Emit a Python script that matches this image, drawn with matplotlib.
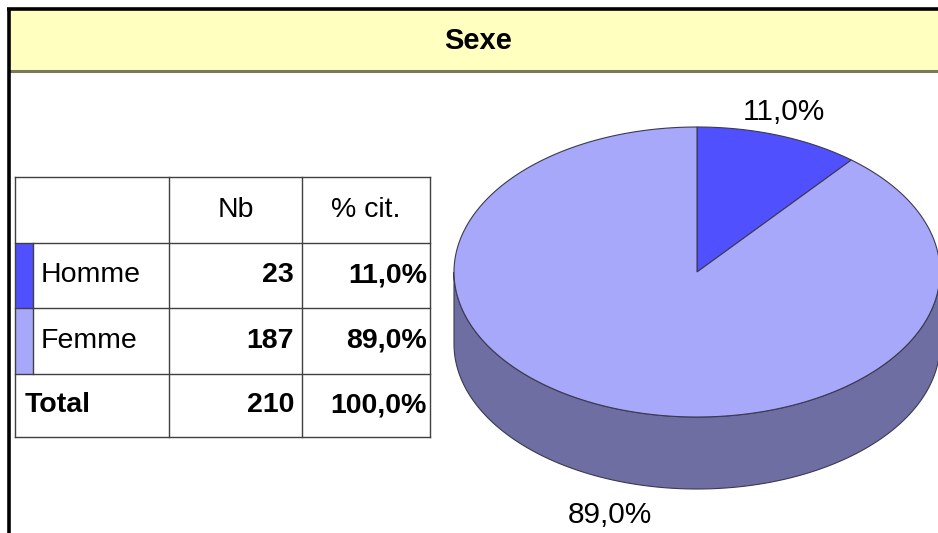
import numpy as np
import matplotlib
matplotlib.use("Agg")
import matplotlib.pyplot as plt
from matplotlib.patches import Polygon, Rectangle

# ---- data ----
title = "Sexe"
categories = ["Homme", "Femme"]
counts = [23, 187]
percents = [11.0, 89.0]
total_label = "Total"
total_count = 210
total_percent = 100.0
col_headers = ["Nb", "% cit."]

top_colors = ["#5050FF", "#A8A8FA"]
side_color = "#6E6EA2"
edge_color = "#3A3A50"

def fmt_pct(v):
    return f"{v:.1f}%".replace(".", ",")

W, H = 938, 533
fig = plt.figure(figsize=(W / 100, H / 100), dpi=100)
ax = fig.add_axes([0, 0, 1, 1])
ax.set_xlim(0, W)
ax.set_ylim(H, 0)
ax.axis("off")

FONT = ["Liberation Sans", "DejaVu Sans"]

# ---- frame and title band ----
ax.add_patch(Rectangle((9, 10), W - 9, 61, facecolor="#FFFFC0", edgecolor="none"))
ax.plot([9, W], [71, 71], color="#7A7A5A", lw=2.2, solid_capstyle="butt")
ax.plot([8.5, 8.5], [8, H], color="black", lw=2.6, solid_capstyle="butt")
ax.plot([7, W], [9, 9], color="black", lw=2.6, solid_capstyle="butt")
ax.text(478, 41, title, ha="center", va="center", fontsize=21, fontweight="bold", family=FONT)

# ---- table ----
xs = [15, 33, 169, 302, 430]
ys = [177, 243, 308, 374, 437]
lc = "#404040"
for y in ys:
    ax.plot([xs[0], xs[-1]], [y, y], color=lc, lw=1)
ax.plot([xs[0], xs[0]], [ys[0], ys[-1]], color=lc, lw=1)
for x in xs[2:]:
    ax.plot([x, x], [ys[0], ys[-1]], color=lc, lw=1)
for i, c in enumerate(top_colors):
    ax.add_patch(Rectangle((xs[0], ys[i + 1]), xs[1] - xs[0], ys[i + 2] - ys[i + 1],
                           facecolor=c, edgecolor="none", zorder=1))
    ax.plot([xs[1], xs[1]], [ys[i + 1], ys[i + 2]], color=lc, lw=1)

fs = 20.5
hy = (ys[0] + ys[1]) / 2
ax.text((xs[2] + xs[3]) / 2, hy, col_headers[0], ha="center", va="center", fontsize=fs, family=FONT)
ax.text((xs[3] + xs[4]) / 2, hy, col_headers[1], ha="center", va="center", fontsize=fs, family=FONT)
for i, cat in enumerate(categories):
    cy = (ys[i + 1] + ys[i + 2]) / 2
    ax.text(xs[1] + 8, cy, cat, ha="left", va="center", fontsize=fs, family=FONT)
    ax.text(xs[3] - 8, cy, str(counts[i]), ha="right", va="center", fontsize=fs,
            fontweight="bold", family=FONT)
    ax.text(xs[4] - 3, cy, fmt_pct(percents[i]), ha="right", va="center", fontsize=fs,
            fontweight="bold", family=FONT)
cy = (ys[3] + ys[4]) / 2
ax.text(xs[0] + 10, cy, total_label, ha="left", va="center", fontsize=fs, fontweight="bold", family=FONT)
ax.text(xs[3] - 8, cy, str(total_count), ha="right", va="center", fontsize=fs, fontweight="bold", family=FONT)
ax.text(xs[4] - 3, cy, fmt_pct(total_percent), ha="right", va="center", fontsize=fs, fontweight="bold", family=FONT)

# ---- 3D pie ----
pcx, pcy, rx, ry, depth = 697, 272, 243, 145, 72

def pt(theta_deg, dz=0.0, r=1.0):
    t = np.radians(theta_deg)
    return pcx + r * rx * np.cos(t), pcy - r * ry * np.sin(t) + dz

vals = np.array(counts, dtype=float)
fracs = vals / vals.sum()
start = 90.0
angles = []
a = start
for f in fracs:
    a1 = a - 360 * f  # clockwise
    angles.append((a1, a))
    a = a1

# sides (front half: 180..360 deg)
for i, (a1, a0) in enumerate(angles):
    for shift in (0, -360, 360):
        s0, s1 = max(a1 + shift, 180), min(a0 + shift, 360)
        if s1 > s0:
            th = np.linspace(s0, s1, 200)
            topx, topy = pt(th)
            botx, boty = pt(th[::-1], dz=depth)
            poly = np.column_stack([np.concatenate([topx, botx]), np.concatenate([topy, boty])])
            ax.add_patch(Polygon(poly, closed=True, facecolor=side_color,
                                 edgecolor=edge_color, lw=0.8, zorder=2))

# top faces
for i, (a1, a0) in enumerate(angles):
    th = np.linspace(a1, a0, 300)
    ex, ey = pt(th)
    poly = np.column_stack([np.concatenate([[pcx], ex]), np.concatenate([[pcy], ey])])
    ax.add_patch(Polygon(poly, closed=True, facecolor=top_colors[i],
                         edgecolor=edge_color, lw=0.8, zorder=3))

# labels
for i, (a1, a0) in enumerate(angles):
    mid = (a1 + a0) / 2
    s = np.sin(np.radians(mid))
    lx, ly = pt(mid, r=1.06)
    if s < 0:
        ly += depth + 26
    else:
        ly -= 15
    ax.text(lx, ly, fmt_pct(percents[i]), ha="center", va="center", fontsize=21.5, family=FONT, zorder=4)

fig.savefig("out.png", dpi=100, facecolor="white")
